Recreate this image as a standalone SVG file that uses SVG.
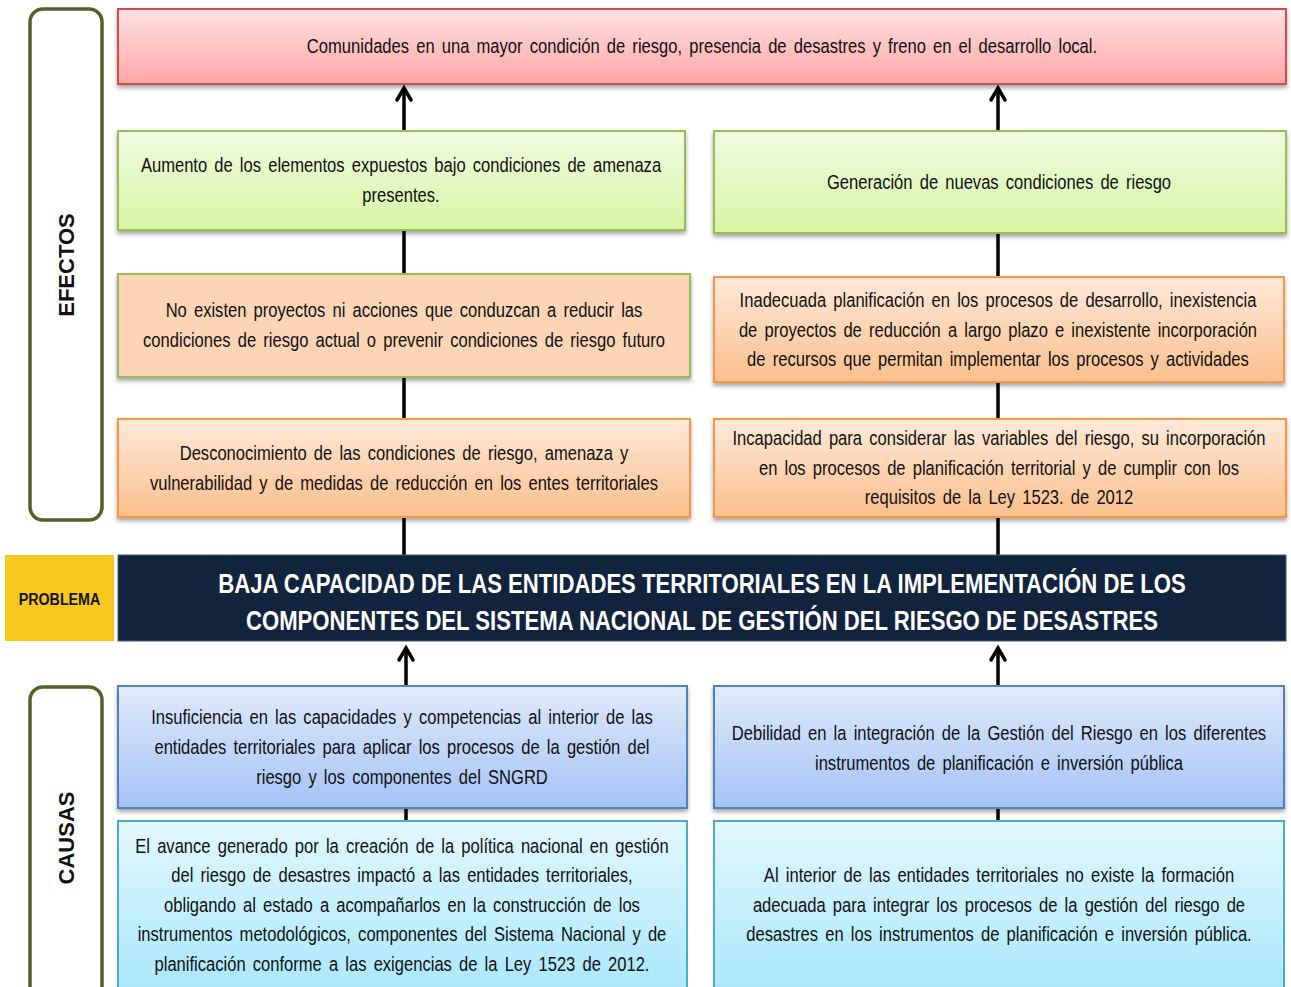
<svg xmlns="http://www.w3.org/2000/svg" width="1291" height="987" viewBox="0 0 1291 987">
<style>
.t{font-family:"Liberation Sans",Arial,sans-serif;font-size:19.5px;fill:#111;text-anchor:middle;dominant-baseline:central;word-spacing:3px}
.side{fill:#fff;stroke:#4f6228;stroke-width:3.5}
.lbl{font-family:"Liberation Sans",Arial,sans-serif;font-weight:bold;font-size:22px;fill:#111;text-anchor:middle;dominant-baseline:central}
.prob{font-family:"Liberation Sans",Arial,sans-serif;font-weight:bold;font-size:28px;fill:#fff;text-anchor:middle;dominant-baseline:central}
.con{stroke:#000;stroke-width:3.5;fill:none}
.ah{stroke:#000;stroke-width:3.5;fill:none;stroke-linecap:round;stroke-linejoin:miter}
</style>
<defs>
<linearGradient id="gRed" x1="0" y1="0" x2="0" y2="1"><stop offset="0" stop-color="#fde2e2"/><stop offset="1" stop-color="#ffa5a5"/></linearGradient>
<linearGradient id="gGreen" x1="0" y1="0" x2="0" y2="1"><stop offset="0" stop-color="#f0fbe2"/><stop offset="1" stop-color="#d6f5a4"/></linearGradient>
<linearGradient id="gOrange" x1="0" y1="0" x2="0" y2="1"><stop offset="0" stop-color="#fde9da"/><stop offset="1" stop-color="#fbbf8c"/></linearGradient>
<linearGradient id="gBlue" x1="0" y1="0" x2="0" y2="1"><stop offset="0" stop-color="#e0eafb"/><stop offset="1" stop-color="#a5c2f5"/></linearGradient>
<linearGradient id="gCyan" x1="0" y1="0" x2="0" y2="1"><stop offset="0" stop-color="#e2f7fd"/><stop offset="1" stop-color="#a3e6fb"/></linearGradient>
<filter id="sh" x="-5%" y="-10%" width="110%" height="130%"><feDropShadow dx="0" dy="3" stdDeviation="2" flood-color="#000" flood-opacity="0.35"/></filter>
</defs>
<rect width="1291" height="987" fill="#fff"/>

<g id="connectors">
<line class="con" x1="404" y1="131" x2="404" y2="88"/>
<polyline class="ah" points="397,100 404,88 411,100"/>
<line class="con" x1="998" y1="131" x2="998" y2="88"/>
<polyline class="ah" points="991,100 998,88 1005,100"/>
<line class="con" x1="404" y1="274" x2="404" y2="230"/>
<line class="con" x1="998" y1="277" x2="998" y2="233"/>
<line class="con" x1="404" y1="419" x2="404" y2="377"/>
<line class="con" x1="998" y1="419" x2="998" y2="382"/>
<line class="con" x1="404" y1="555" x2="404" y2="517"/>
<line class="con" x1="998" y1="555" x2="998" y2="517"/>
<line class="con" x1="406" y1="686" x2="406" y2="648"/>
<polyline class="ah" points="399,660 406,648 413,660"/>
<line class="con" x1="998" y1="686" x2="998" y2="648"/>
<polyline class="ah" points="991,660 998,648 1005,660"/>
<line class="con" x1="406" y1="821" x2="406" y2="808"/>
<line class="con" x1="998" y1="821" x2="998" y2="808"/>
</g>

<g id="efectos">
<rect class="side" x="30" y="9" width="72" height="511" rx="13"/>
<text class="lbl" transform="translate(66 265) rotate(-90)">EFECTOS</text>
</g>
<g id="causas">
<rect class="side" x="30" y="687" width="72" height="320" rx="13"/>
<text class="lbl" transform="translate(66 838) rotate(-90)">CAUSAS</text>
</g>

<g id="efecto-final">
<rect x="118" y="9" width="1168" height="75" fill="url(#gRed)" stroke="#c9504d" stroke-width="2" filter="url(#sh)"/>
<g transform="matrix(0.85 0 0 1 105.3 0)">
<text class="t" x="702" y="47">Comunidades en una mayor condición de riesgo, presencia de desastres y freno en el desarrollo local.</text>
</g>
</g>

<g id="efecto-aumento">
<rect x="118" y="131" width="567" height="99" fill="url(#gGreen)" stroke="#9bbb59" stroke-width="2" filter="url(#sh)"/>
<g transform="matrix(0.85 0 0 1 60.15 0)">
<text class="t" x="401" y="166">Aumento de los elementos expuestos bajo condiciones de amenaza</text>
<text class="t" x="401" y="196">presentes.</text>
</g>
</g>
<g id="efecto-generacion">
<rect x="714" y="131" width="572" height="102" fill="url(#gGreen)" stroke="#9bbb59" stroke-width="2" filter="url(#sh)"/>
<g transform="matrix(0.85 0 0 1 149.85 0)">
<text class="t" x="999" y="183">Generación de nuevas condiciones de riesgo</text>
</g>
</g>

<g id="efecto-proyectos">
<rect x="118" y="274" width="572" height="103" fill="#fbd5b6" stroke="#9bbb59" stroke-width="2" filter="url(#sh)"/>
<g transform="matrix(0.85 0 0 1 60.6 0)">
<text class="t" x="404" y="311">No existen proyectos ni acciones que conduzcan a reducir las</text>
<text class="t" x="404" y="341">condiciones de riesgo actual o prevenir condiciones de riesgo futuro</text>
</g>
</g>
<g id="efecto-planificacion">
<rect x="714" y="277" width="570" height="105" fill="url(#gOrange)" stroke="#f79646" stroke-width="2" filter="url(#sh)"/>
<g transform="matrix(0.85 0 0 1 149.7 0)">
<text class="t" x="998" y="301">Inadecuada planificación en los procesos de desarrollo, inexistencia</text>
<text class="t" x="998" y="331">de proyectos de reducción a largo plazo e inexistente incorporación</text>
<text class="t" x="998" y="360">de recursos que permitan implementar los procesos y actividades</text>
</g>
</g>

<g id="efecto-desconocimiento">
<rect x="118" y="419" width="572" height="98" fill="url(#gOrange)" stroke="#f79646" stroke-width="2" filter="url(#sh)"/>
<g transform="matrix(0.85 0 0 1 60.6 0)">
<text class="t" x="404" y="454">Desconocimiento de las condiciones de riesgo, amenaza y</text>
<text class="t" x="404" y="484">vulnerabilidad y de medidas de reducción en los entes territoriales</text>
</g>
</g>
<g id="efecto-incapacidad">
<rect x="714" y="419" width="572" height="98" fill="url(#gOrange)" stroke="#f79646" stroke-width="2" filter="url(#sh)"/>
<g transform="matrix(0.85 0 0 1 149.85 0)">
<text class="t" x="999" y="439">Incapacidad para considerar las variables del riesgo, su incorporación</text>
<text class="t" x="999" y="469">en los procesos de planificación territorial y de cumplir con los</text>
<text class="t" x="999" y="498">requisitos de la Ley 1523. de 2012</text>
</g>
</g>

<g id="problema-label">
<rect x="5" y="555" width="109" height="86" fill="#f9c81f"/>
<text transform="matrix(0.84 0 0 1 9.52 0)" x="59.5" y="599" font-family="Liberation Sans,Arial,sans-serif" font-weight="bold" font-size="17" fill="#111" text-anchor="middle" dominant-baseline="central">PROBLEMA</text>
</g>
<g id="problema">
<rect x="118" y="555" width="1168" height="86" fill="#12233e" stroke="#4a5a70" stroke-width="1"/>
<g transform="matrix(0.79 0 0 1 147.42 0)">
<text class="prob" x="702" y="583">BAJA CAPACIDAD DE LAS ENTIDADES TERRITORIALES EN LA IMPLEMENTACIÓN DE LOS</text>
<text class="prob" x="702" y="620">COMPONENTES DEL SISTEMA NACIONAL DE GESTIÓN DEL RIESGO DE DESASTRES</text>
</g>
</g>

<g id="causa-insuficiencia">
<rect x="118" y="686" width="569" height="122" fill="url(#gBlue)" stroke="#4f81bd" stroke-width="2" filter="url(#sh)"/>
<g transform="matrix(0.85 0 0 1 60.3 0)">
<text class="t" x="402" y="718">Insuficiencia en las capacidades y competencias al interior de las</text>
<text class="t" x="402" y="748">entidades territoriales para aplicar los procesos de la gestión del</text>
<text class="t" x="402" y="778">riesgo y los componentes del SNGRD</text>
</g>
</g>
<g id="causa-debilidad">
<rect x="714" y="686" width="570" height="122" fill="url(#gBlue)" stroke="#4f81bd" stroke-width="2" filter="url(#sh)"/>
<g transform="matrix(0.85 0 0 1 149.85 0)">
<text class="t" x="999" y="734">Debilidad en la integración de la Gestión del Riesgo en los diferentes</text>
<text class="t" x="999" y="764">instrumentos de planificación e inversión pública</text>
</g>
</g>

<g id="causa-avance">
<rect x="118" y="821" width="569" height="190" fill="url(#gCyan)" stroke="#4bacc6" stroke-width="2"/>
<g transform="matrix(0.85 0 0 1 60.3 0)">
<text class="t" x="402" y="847">El avance generado por la creación de la política nacional en gestión</text>
<text class="t" x="402" y="876">del riesgo de desastres impactó a las entidades territoriales,</text>
<text class="t" x="402" y="906">obligando al estado a acompañarlos en la construcción de los</text>
<text class="t" x="402" y="935">instrumentos metodológicos, componentes del Sistema Nacional y de</text>
<text class="t" x="402" y="965">planificación conforme a las exigencias de la Ley 1523 de 2012.</text>
</g>
</g>
<g id="causa-formacion">
<rect x="714" y="821" width="570" height="190" fill="url(#gCyan)" stroke="#4bacc6" stroke-width="2"/>
<g transform="matrix(0.85 0 0 1 149.85 0)">
<text class="t" x="999" y="876">Al interior de las entidades territoriales no existe la formación</text>
<text class="t" x="999" y="906">adecuada para integrar los procesos de la gestión del riesgo de</text>
<text class="t" x="999" y="935">desastres en los instrumentos de planificación e inversión pública.</text>
</g>
</g>
</svg>
